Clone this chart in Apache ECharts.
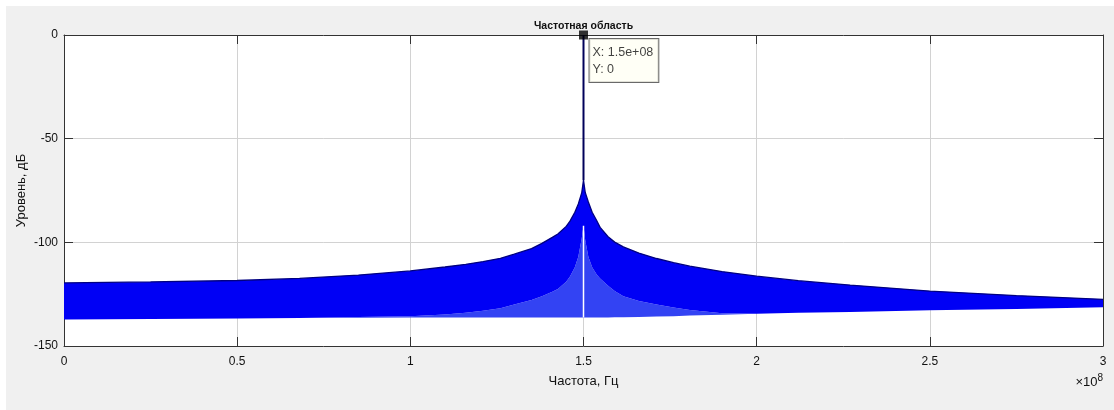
<!DOCTYPE html>
<html>
<head>
<meta charset="utf-8">
<script src="https://cdn.jsdelivr.net/npm/echarts@6/dist/echarts.min.js"></script>
<style>
  html, body { margin: 0; padding: 0; background: #ffffff; }
  #chart { position: absolute; left: 6px; top: 6px; width: 1108px; height: 404px; background: #f0f0f0; }
</style>
</head>
<body>
<div id="chart"></div>
<script>
// ---- Data (frequency in units of 1e8 Hz, level in dB) ----
const freqE8 = [0, 0.25, 0.5, 0.68, 0.85, 1.0, 1.1, 1.16, 1.21, 1.26, 1.3, 1.35, 1.38, 1.41, 1.426, 1.45, 1.461, 1.475, 1.485, 1.495, 1.5,
                1.505, 1.514, 1.525, 1.538, 1.548, 1.571, 1.59, 1.615, 1.66, 1.711, 1.76, 1.807, 1.9, 2.0, 2.12, 2.27, 2.5, 2.75, 3.0];
// upper envelope of the spectrum
const upperDb = [-119.6, -119.1, -118.4, -117.4, -115.8, -113.8, -111.9, -110.6, -109.3, -107.7, -105.7, -103.0, -100.5, -97.6, -96.0, -92.3, -89.8, -85.5, -81.5, -76.0, -70.0,
                 -76.0, -80.5, -85.5, -89.5, -92.8, -97.3, -99.9, -102.2, -105.2, -107.8, -109.8, -111.5, -114.1, -116.3, -118.5, -120.6, -123.5, -125.7, -127.5];
// upper edge of the sparse (hatched) lower part
const midDb = [-137.2, -137.0, -136.7, -136.5, -136.0, -135.6, -134.8, -134.0, -133.0, -131.8, -130.0, -127.8, -126.0, -123.8, -122.5, -119.0, -116.5, -112.0, -107.0, -98.0, -92.0,
               -99.0, -107.0, -112.0, -115.5, -117.5, -121.0, -123.5, -126.0, -128.3, -130.0, -131.4, -132.6, -134.2, -134.4, -134.0, -133.6, -132.8, -132.1, -131.3];
// lower envelope of the spectrum
const lowerDb = [-137.2, -137.0, -136.7, -136.5, -136.4, -136.3, -136.3, -136.3, -136.3, -136.3, -136.3, -136.2, -136.2, -136.2, -136.2, -136.2, -136.2, -136.2, -136.2, -136.2, -136.2,
                 -136.2, -136.2, -136.2, -136.2, -136.2, -136.2, -136.1, -136.1, -136.0, -135.8, -135.6, -135.3, -134.9, -134.4, -134.0, -133.6, -132.8, -132.1, -131.3];
const peakFreqE8 = 1.5;
const peakLevelDb = 0;
const xTicks = [0, 0.5, 1, 1.5, 2, 2.5, 3];
const yTicks = [0, -50, -100, -150];

const titleText = 'Частотная область';
const xName = 'Частота, Гц';
const yName = 'Уровень, дБ';
const tipText = 'X: 1.5e+08\nY: 0';

// ---- Build series data ----
const envData = freqE8.map((f, i) => [f, upperDb[i], midDb[i], lowerDb[i]]);
const upperLine = freqE8.map((f, i) => [f, upperDb[i]]);
const pIdx = freqE8.indexOf(peakFreqE8);

function bandPolygon(api, topArr, botArr, fill) {
  const pts = [];
  for (let i = 0; i < freqE8.length; i++) pts.push(api.coord([freqE8[i], topArr[i]]));
  for (let i = freqE8.length - 1; i >= 0; i--) pts.push(api.coord([freqE8[i], botArr[i]]));
  return { type: 'polygon', shape: { points: pts }, style: { fill: fill, stroke: null } };
}

const FONT = '"Liberation Sans", Arial, Helvetica, sans-serif';
const chart = echarts.init(document.getElementById('chart'), null, { renderer: 'canvas' });

const axisLineStyle = { color: '#333333', width: 1 };
chart.setOption({
  animation: false,
  backgroundColor: '#f0f0f0',
  grid: { left: 58, right: 11, top: 29, bottom: 64, show: true, backgroundColor: '#ffffff', borderWidth: 0,
          containLabel: false, outerBoundsMode: 'none' },
  xAxis: [
    {
      type: 'value', min: xTicks[0], max: xTicks[xTicks.length - 1], interval: 0.5,
      axisLine: { show: true, onZero: false, lineStyle: axisLineStyle },
      axisTick: { show: true, inside: true, length: 9, lineStyle: axisLineStyle },
      axisLabel: { color: '#111', fontFamily: FONT, fontSize: 12, margin: 10, formatter: v => String(v) },
      splitLine: { show: true, lineStyle: { color: '#d2d2d2', width: 1 } },
      name: xName, nameLocation: 'middle', nameGap: 29, nameMoveOverlap: false,
      nameTextStyle: { color: '#111', fontFamily: FONT, fontSize: 13 }
    },
    {
      type: 'value', position: 'top', min: xTicks[0], max: xTicks[xTicks.length - 1], interval: 0.5,
      axisLine: { show: true, onZero: false, lineStyle: axisLineStyle },
      axisTick: { show: true, inside: true, length: 9, lineStyle: axisLineStyle },
      axisLabel: { show: false }, splitLine: { show: false }
    }
  ],
  yAxis: [
    {
      type: 'value', min: yTicks[yTicks.length - 1], max: yTicks[0], interval: 50,
      axisLine: { show: true, onZero: false, lineStyle: axisLineStyle },
      axisTick: { show: true, inside: true, length: 9, lineStyle: axisLineStyle },
      axisLabel: { color: '#111', fontFamily: FONT, fontSize: 12, margin: 6 },
      splitLine: { show: true, lineStyle: { color: '#d2d2d2', width: 1 } },
      name: yName, nameLocation: 'middle', nameGap: 36, nameRotate: 90, nameMoveOverlap: false,
      nameTextStyle: { color: '#111', fontFamily: FONT, fontSize: 13 }
    },
    {
      type: 'value', position: 'right', min: yTicks[yTicks.length - 1], max: yTicks[0], interval: 50,
      axisLine: { show: true, onZero: false, lineStyle: axisLineStyle },
      axisTick: { show: true, inside: true, length: 9, lineStyle: axisLineStyle },
      axisLabel: { show: false }, splitLine: { show: false }
    }
  ],
  graphic: [
    { type: 'text', x: 583.5 - 6, y: 26 - 6, style: { text: titleText, font: 'bold 10.5px ' + FONT, fill: '#111', align: 'center', verticalAlign: 'middle' } },
    { type: 'text', x: 1103 - 6, y: 391 - 6, style: { text: '{a|×10}{b|8}', align: 'right', verticalAlign: 'bottom',
        rich: { a: { font: '13px ' + FONT, fill: '#111' }, b: { font: '10px ' + FONT, fill: '#111', padding: [0, 0, 8, 0] } } } }
  ],
  series: [
    { name: 'spectrum', type: 'custom', data: envData, encode: { x: 0, y: [1, 2, 3] }, silent: true, z: 2,
      renderItem: function (params, api) {
        if (params.dataIndex !== 0) return null;
        return { type: 'group', children: [
          bandPolygon(api, midDb, lowerDb, '#3343f3'),
          bandPolygon(api, upperDb, midDb, '#0000f5')
        ] };
      } },
    { name: 'upper', type: 'line', data: upperLine, showSymbol: false, silent: true,
      lineStyle: { width: 1.3, color: '#000080' }, z: 3 },
    { name: 'gap', type: 'line', data: [[peakFreqE8, midDb[pIdx]], [peakFreqE8, lowerDb[pIdx]]], showSymbol: false, silent: true,
      lineStyle: { width: 1.5, color: '#ffffff' }, z: 4 },
    { name: 'peak', type: 'line', data: [[peakFreqE8, upperDb[pIdx]], [peakFreqE8, peakLevelDb]], showSymbol: false, silent: true,
      lineStyle: { width: 2, color: '#00005a' }, z: 5 },
    { name: 'tip', type: 'scatter', data: [[peakFreqE8, peakLevelDb]], symbol: 'rect', symbolSize: 9,
      itemStyle: { color: '#000000' }, z: 10, silent: true,
      label: { show: true, position: [10.5, 8.5], formatter: tipText, color: '#111', fontFamily: FONT, fontSize: 12.5, lineHeight: 17,
        align: 'left', verticalAlign: 'top', backgroundColor: '#fffff4', borderColor: '#444', borderWidth: 1,
        padding: [5, 5, 4, 3] } }
  ]
});
</script>
</body>
</html>
